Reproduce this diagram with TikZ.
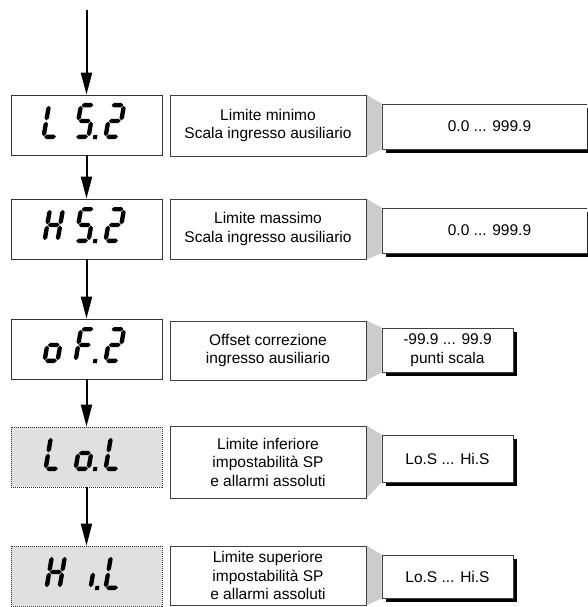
\documentclass[tikz,border=0pt]{standalone}
\usepackage{fontspec}
\setmainfont{Liberation Sans}
\usetikzlibrary{arrows.meta,backgrounds}

% one slanted seven-segment character: #1 = x of its foot, #2 = y of its foot, #3 = segments
\newcommand\lcdchar[3]{%
  \begin{scope}[shift={(#1,#2)}, yscale=-1, xslant=-0.17]
    #3
  \end{scope}}
% horizontal segment from x #1 to x #3 at height #2
\newcommand\hsg[3]{\fill ({#1},{#2}) -- ({#1+2.2},{#2+2.2}) -- ({#3-2.2},{#2+2.2}) -- ({#3},{#2}) -- ({#3-2.2},{#2-2.2}) -- ({#1+2.2},{#2-2.2}) -- cycle;}
% vertical segment at x #1 from height #2 to height #3
\newcommand\vsg[3]{\fill ({#1},{#2}) -- ({#1+2.2},{#2+2.2}) -- ({#1+2.2},{#3-2.2}) -- ({#1},{#3}) -- ({#1-2.2},{#3-2.2}) -- ({#1-2.2},{#2+2.2}) -- cycle;}
\newcommand\sgA{\hsg{2.8}{33.8}{14.6}}
\newcommand\sgB{\vsg{15.2}{18.6}{33.2}}
\newcommand\sgC{\vsg{15.2}{2.8}{17.4}}
\newcommand\sgD{\hsg{2.8}{2.2}{14.6}}
\newcommand\sgE{\vsg{2.2}{2.8}{17.4}}
\newcommand\sgF{\vsg{2.2}{18.6}{33.2}}
\newcommand\sgG{\hsg{2.8}{18}{14.6}}
\newcommand\sgP{\fill (19.8,0) rectangle (23.8,4.2);}

\tikzset{
  lcd/.style={draw=black!80, line width=0.8pt, fill=white, minimum width=151pt, minimum height=60pt, inner sep=0pt},
  lcdhidden/.style={lcd, fill=black!12, dash pattern=on 1pt off 1pt},
  desc/.style={draw=black!75, line width=0.8pt, fill=white, minimum width=196pt, inner sep=0pt, align=center,
    font=\fontsize{15.5}{18.5}\selectfont},
  val/.style={draw=black!75, line width=0.8pt, fill=white, inner sep=0pt, align=center,
    font=\fontsize{15.5}{18.5}\selectfont},
  link/.style={fill=black!20},
  shade/.style={fill=black},
  flow/.style={line width=2pt, -{Triangle[length=22pt, width=11pt]}}
}

\begin{document}
\begin{tikzpicture}[x=1pt, y=-1pt]
\useasboundingbox (0,0) rectangle (587,607);
\clip (0,0) rectangle (587,607);

% parameter displays
\node[lcd] (d1) at (86.5,125) {};
\node[lcd] (d2) at (86.5,229) {};
\node[lcd] (d3) at (86.5,349) {};
\node[lcdhidden] (d4) at (86.5,457) {};
\node[lcdhidden] (d5) at (86.5,576) {};

% descriptions
\node[desc, minimum height=61pt] (t1) at (268,125.5) {Limite minimo\\Scala ingresso ausiliario};
\node[desc, minimum height=60pt] (t2) at (268,229) {Limite massimo\\Scala ingresso ausiliario};
\node[desc, minimum height=59pt] (t3) at (268,350.5) {Offset correzione\\ingresso ausiliario};
\node[desc, minimum height=72pt] (t4) at (268,462) {Limite inferiore\\impostabilità SP\\e allarmi assoluti};
\node[desc, minimum height=59pt] (t5) at (268,575.5) {Limite superiore\\impostabilità SP\\e allarmi assoluti};

% value ranges
\node[val, minimum width=215pt, minimum height=45pt] (v1) at (489.5,126.5) {0.0 ... 999.9};
\node[val, minimum width=215pt, minimum height=45pt] (v2) at (489.5,230.5) {0.0 ... 999.9};
\node[val, minimum width=131pt, minimum height=44pt] (v3) at (447.5,350) {-99.9 ... 99.9\\punti scala};
\node[val, minimum width=131pt, minimum height=47pt] (v4) at (447.5,458.5) {Lo.S ... Hi.S};
\node[val, minimum width=131pt, minimum height=43pt] (v5) at (447.5,576.5) {Lo.S ... Hi.S};

\begin{scope}[on background layer]
  % grey funnels from description to value, and the solid shadows of the value boxes
  \foreach \i in {1,...,5} {
    \fill[link] (t\i.north east) -- (v\i.north west) -- (v\i.south west) -- (t\i.south east) -- cycle;
    \fill[shade] ([shift={(4,4)}]v\i.north west) rectangle ([shift={(4,4)}]v\i.south east);
  }
\end{scope}

% flow arrows
\coordinate (start) at (86.5,10);
\draw[flow] (start) -- (d1.north);
\draw[flow] (d1.south) -- (d2.north);
\draw[flow] (d2.south) -- (d3.north);
\draw[flow] (d3.south) -- (d4.north);
\draw[flow] (d4.south) -- (d5.north);

% display readings
% L S.2
\lcdchar{41}{139}{\sgD\sgE\sgF}
\lcdchar{73}{139}{\sgA\sgF\sgG\sgC\sgD\sgP}
\lcdchar{103}{139}{\sgA\sgB\sgG\sgE\sgD}
% H S.2
\lcdchar{42}{243}{\sgB\sgC\sgE\sgF\sgG}
\lcdchar{73}{243}{\sgA\sgF\sgG\sgC\sgD\sgP}
\lcdchar{103}{243}{\sgA\sgB\sgG\sgE\sgD}
% o F.2
\lcdchar{42}{363}{\sgC\sgD\sgE\sgG}
\lcdchar{73}{363}{\sgA\sgE\sgF\sgG\sgP}
\lcdchar{103}{363}{\sgA\sgB\sgG\sgE\sgD}
% L o.L
\lcdchar{43}{471}{\sgD\sgE\sgF}
\lcdchar{73}{471}{\sgC\sgD\sgE\sgG\sgP}
\lcdchar{103}{471}{\sgD\sgE\sgF}
% H i.L
\lcdchar{44}{590}{\sgB\sgC\sgE\sgF\sgG}
\lcdchar{75}{590}{\sgC\sgP}
\lcdchar{103}{590}{\sgD\sgE\sgF}
\end{tikzpicture}
\end{document}
